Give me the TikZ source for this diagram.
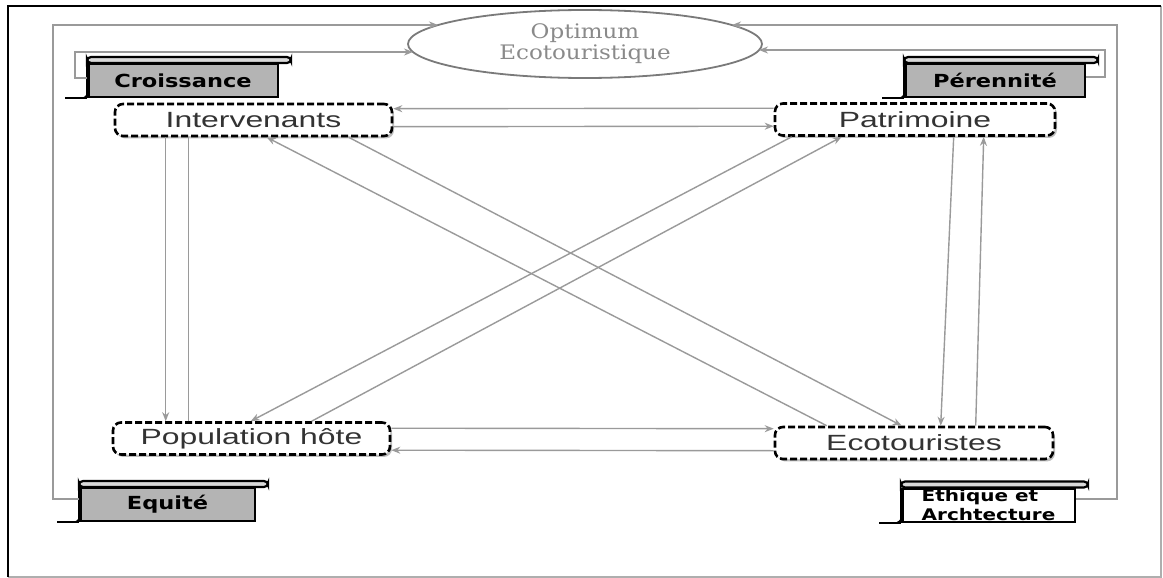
\documentclass[tikz,border=0pt]{standalone}
\usepackage{fontspec}
\usetikzlibrary{shapes.geometric,arrows.meta,calc,shadows}
\newfontfamily\boxfont[FakeStretch=1.45]{Liberation Sans}
\newfontfamily\scrollfont[FakeStretch=1.25]{DejaVu Sans}
\newfontfamily\optfont[FakeStretch=1.15]{DejaVu Serif}
\definecolor{conncol}{HTML}{9A9A9A}
\definecolor{scrollgray}{HTML}{B4B4B4}
\definecolor{opttext}{HTML}{8A8A8A}
\definecolor{optline}{HTML}{7A7A7A}
\definecolor{boxtext}{HTML}{333333}
\newcommand\scrolldeco[1]{%
  \draw[black, line width=1.1pt, fill=black!15, rounded corners=2pt] ($(#1.north west)+(0,-6)$) rectangle ($(#1.north east)+(12,0)$);
  \draw[black, line width=2pt] ($(#1.north west)+(1,0)$) -- ($(#1.south west)+(1,0)$);
  \draw[black, line width=1pt] ($(#1.south west)+(-22,0)$) -- (#1.south west);
  \fill[black] ($(#1.south west)+(-7,0)$) to[out=0,in=-90] ($(#1.south west)+(0,-6)$) -- (#1.south west) -- cycle;
}
\begin{document}
\begin{tikzpicture}[x=0.5pt,y=-0.5pt,
  conn/.style={draw=conncol, line width=0.7pt},
  arr/.style={conn, -{Stealth[length=4.5pt,width=3.5pt]}},
  frame/.style={draw=conncol, line width=0.9pt},
  framearr/.style={frame, -{Stealth[length=4.5pt,width=3.5pt]}},
  dbox/.style={draw=black, line width=1.3pt, dash pattern=on 3.5pt off 1.5pt,
    rounded corners=4pt, fill=white, minimum width=#1, minimum height=16pt,
    inner sep=0pt, font=\boxfont\fontsize{11}{13}\selectfont, text=boxtext,
    drop shadow={shadow xshift=1pt, shadow yshift=-1.2pt, opacity=0.25, fill=black}},
  scroll/.style={draw=black, line width=1pt, fill=scrollgray, minimum width=#1,
    minimum height=16.5pt, inner sep=0pt,
    font=\scrollfont\bfseries\fontsize{9}{10}\selectfont},
  optnode/.style={ellipse, draw=optline, line width=0.9pt, minimum width=177pt,
    minimum height=34pt, inner sep=0pt, align=center,
    font=\optfont\fontsize{10}{10.5}\selectfont, text=opttext}
]
\useasboundingbox (0,0) rectangle (1163,578);
\fill[white] (0,0) rectangle (1163,578);

% outer frame
\draw[conncol!80, line width=0.6pt] (1161,6) -- (1161,577) -- (8,577);
\draw[black, line width=1.3pt] (8,577) -- (8,6) -- (1161,6);

% ellipse
\node[optnode] (opt) at (585,44) {Optimum\\Ecotouristique};

% main boxes
\node[dbox=138.5pt] (int) at (253.5,120) {Intervenants};
\node[dbox=140pt] (pat) at (915,119.5) {Patrimoine};
\node[dbox=138.5pt] (pop) at (251.5,438.5) {Population\ hôte};
\node[dbox=139pt] (eco) at (914,443) {Ecotouristes};

% scrolls
\node[scroll=95pt] (cro) at (183,80.5) {Croissance};
\node[scroll=90pt] (per) at (995,80.5) {Pérennité};
\node[scroll=87.5pt] (equ) at (167.5,504.5) {Equité};
\node[scroll=86.5pt, fill=white, align=left,
  font=\scrollfont\bfseries\fontsize{8}{9.5}\selectfont] (eth) at (988.5,505) {Ethique et\\Archtecture};
\scrolldeco{cro}
\scrolldeco{per}
\scrolldeco{equ}
\scrolldeco{eth}

% coordinates on the ellipse and frame corners
\coordinate (optA) at (438,25);
\coordinate (optB) at (413,52);
\coordinate (optC) at (732,25);
\coordinate (optD) at (759,50);
\coordinate (fl) at (53,25);
\coordinate (fr) at (1117,25);
\coordinate (cl) at (75,52);
\coordinate (pr) at (1105,50);

% frame loops
\draw[framearr] ($(equ.west)+(0,-5.5)$) -| (fl) -- (optA);
\draw[framearr] ($(eth.east)+(0,-6)$) -| (fr) -- (optC);
\draw[framearr] ($(cro.west)+(0,-2.5)$) -| (cl) -- (optB);
\draw[framearr] ($(per.east)+(0,-3.5)$) -| (pr) -- (optD);

% horizontal pairs
\draw[arr] ($(pat.north west)+(0,6)$) -- ($(int.north east)+(0,6)$);
\draw[arr] ($(int.north east)+(0,24)$) -- ($(pat.north west)+(0,24)$);
\draw[arr] ($(pop.north east)+(0,7)$) -- ($(eco.north west)+(0,3)$);
\draw[arr] ($(eco.north west)+(0,25)$) -- ($(pop.north east)+(0,29)$);

% vertical pairs
\draw[arr] ($(int.south west)+(52,0)$) -- ($(pop.north west)+(54,0)$);
\draw[conn] ($(pop.north west)+(77,0)$) -- ($(int.south west)+(75,0)$);
\draw[arr] ($(pat.south west)+(180,0)$) -- ($(eco.north west)+(167,0)$);
\draw[arr] ($(eco.north west)+(202,0)$) -- ($(pat.south west)+(210,0)$);

% diagonals
\draw[arr] ($(int.south west)+(235,0)$) -- ($(eco.north west)+(128,0)$);
\draw[arr] ($(eco.north west)+(53,0)$) -- ($(int.south west)+(153,0)$);
\draw[arr] ($(pat.south west)+(18,0)$) -- ($(pop.north west)+(139,0)$);
\draw[arr] ($(pop.north west)+(200,0)$) -- ($(pat.south west)+(68,0)$);
\end{tikzpicture}
\end{document}
